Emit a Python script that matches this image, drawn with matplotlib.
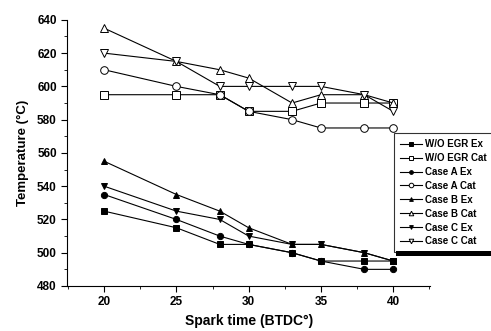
import matplotlib
matplotlib.use("Agg")
import matplotlib.pyplot as plt
from matplotlib.patches import Rectangle
from matplotlib.ticker import MultipleLocator

plt.rcParams['font.family'] = ['Liberation Sans', 'DejaVu Sans']
plt.rcParams['font.weight'] = 'bold'

# Spark timing (BTDC deg)
spark = [20, 25, 28, 30, 33, 35, 38, 40]

# Exhaust temperatures
wo_egr_ex = [525, 515, 505, 505, 500, 495, 495, 495]
case_a_ex = [535, 520, 510, 505, 500, 495, 490, 490]
case_b_ex = [555, 535, 525, 515, 505, 505, 500, 495]
case_c_ex = [540, 525, 520, 510, 505, 505, 500, 495]

# Catalyst temperatures
wo_egr_cat = [595, 595, 595, 585, 585, 590, 590, 590]
case_a_cat = [610, 600, 595, 585, 580, 575, 575, 575]
case_b_cat = [635, 615, 610, 605, 590, 595, 595, 590]
case_c_cat = [620, 615, 600, 600, 600, 600, 595, 585]

series = [
    ("W/O EGR Ex", wo_egr_ex, 's', True, '-'),
    ("W/O EGR Cat", wo_egr_cat, 's', False, '-'),
    ("Case A Ex", case_a_ex, 'o', True, '-'),
    ("Case A Cat", case_a_cat, 'o', False, '-'),
    ("Case B Ex", case_b_ex, '^', True, '-'),
    ("Case B Cat", case_b_cat, '^', False, '-'),
    ("Case C Ex", case_c_ex, 'v', True, '-'),
    ("Case C Cat", case_c_cat, 'v', False, '-'),
]

fig = plt.figure(figsize=(4.91, 3.31), dpi=100)
ax = fig.add_axes([0.137, 0.136, 0.739, 0.804])

for label, vals, mk, filled, ls in series:
    ax.plot(spark, vals, ls, color='black', linewidth=0.8, marker=mk,
            markersize=4.5 if filled else 5.5,
            markerfacecolor='black' if filled else 'white',
            markeredgecolor='black', markeredgewidth=0.7, label=label)

ax.set_xlim(17.45, 42.55)
ax.set_ylim(480, 640)
ax.xaxis.set_major_locator(MultipleLocator(5))
ax.xaxis.set_minor_locator(MultipleLocator(2.5))
ax.yaxis.set_major_locator(MultipleLocator(20))
ax.yaxis.set_minor_locator(MultipleLocator(10))
ax.tick_params(which='major', direction='out', length=4, width=0.8, labelsize=8.5)
ax.tick_params(which='minor', direction='out', length=2, width=0.6)
ax.spines['top'].set_visible(False)
ax.spines['right'].set_visible(False)

ax.set_xlabel("Spark time (BTDC°)", fontsize=10, fontweight='bold', labelpad=4)
ax.set_ylabel("Temperature (°C)", fontsize=9.5, fontweight='bold', labelpad=6)

leg = ax.legend(loc='upper left', bbox_to_anchor=(0.802, 0.597),
                bbox_transform=fig.transFigure, fontsize=7, frameon=True,
                fancybox=False, edgecolor='black', handlelength=2.3,
                handletextpad=0.3, labelspacing=0.4, borderpad=0.6,
                borderaxespad=0, markerscale=0.6)
leg.get_frame().set_linewidth(0.8)
for t in leg.get_texts():
    t.set_fontweight('bold')

# thick shadow bar under the legend box
fig.canvas.draw()
bb = leg.get_window_extent().transformed(fig.transFigure.inverted())
fig.patches.append(Rectangle((bb.x0 + 0.004, bb.y0 - 0.012), bb.width + 0.05, 0.016,
                             transform=fig.transFigure, facecolor='black',
                             edgecolor='none', zorder=10))

fig.savefig("out.png", dpi=100)
